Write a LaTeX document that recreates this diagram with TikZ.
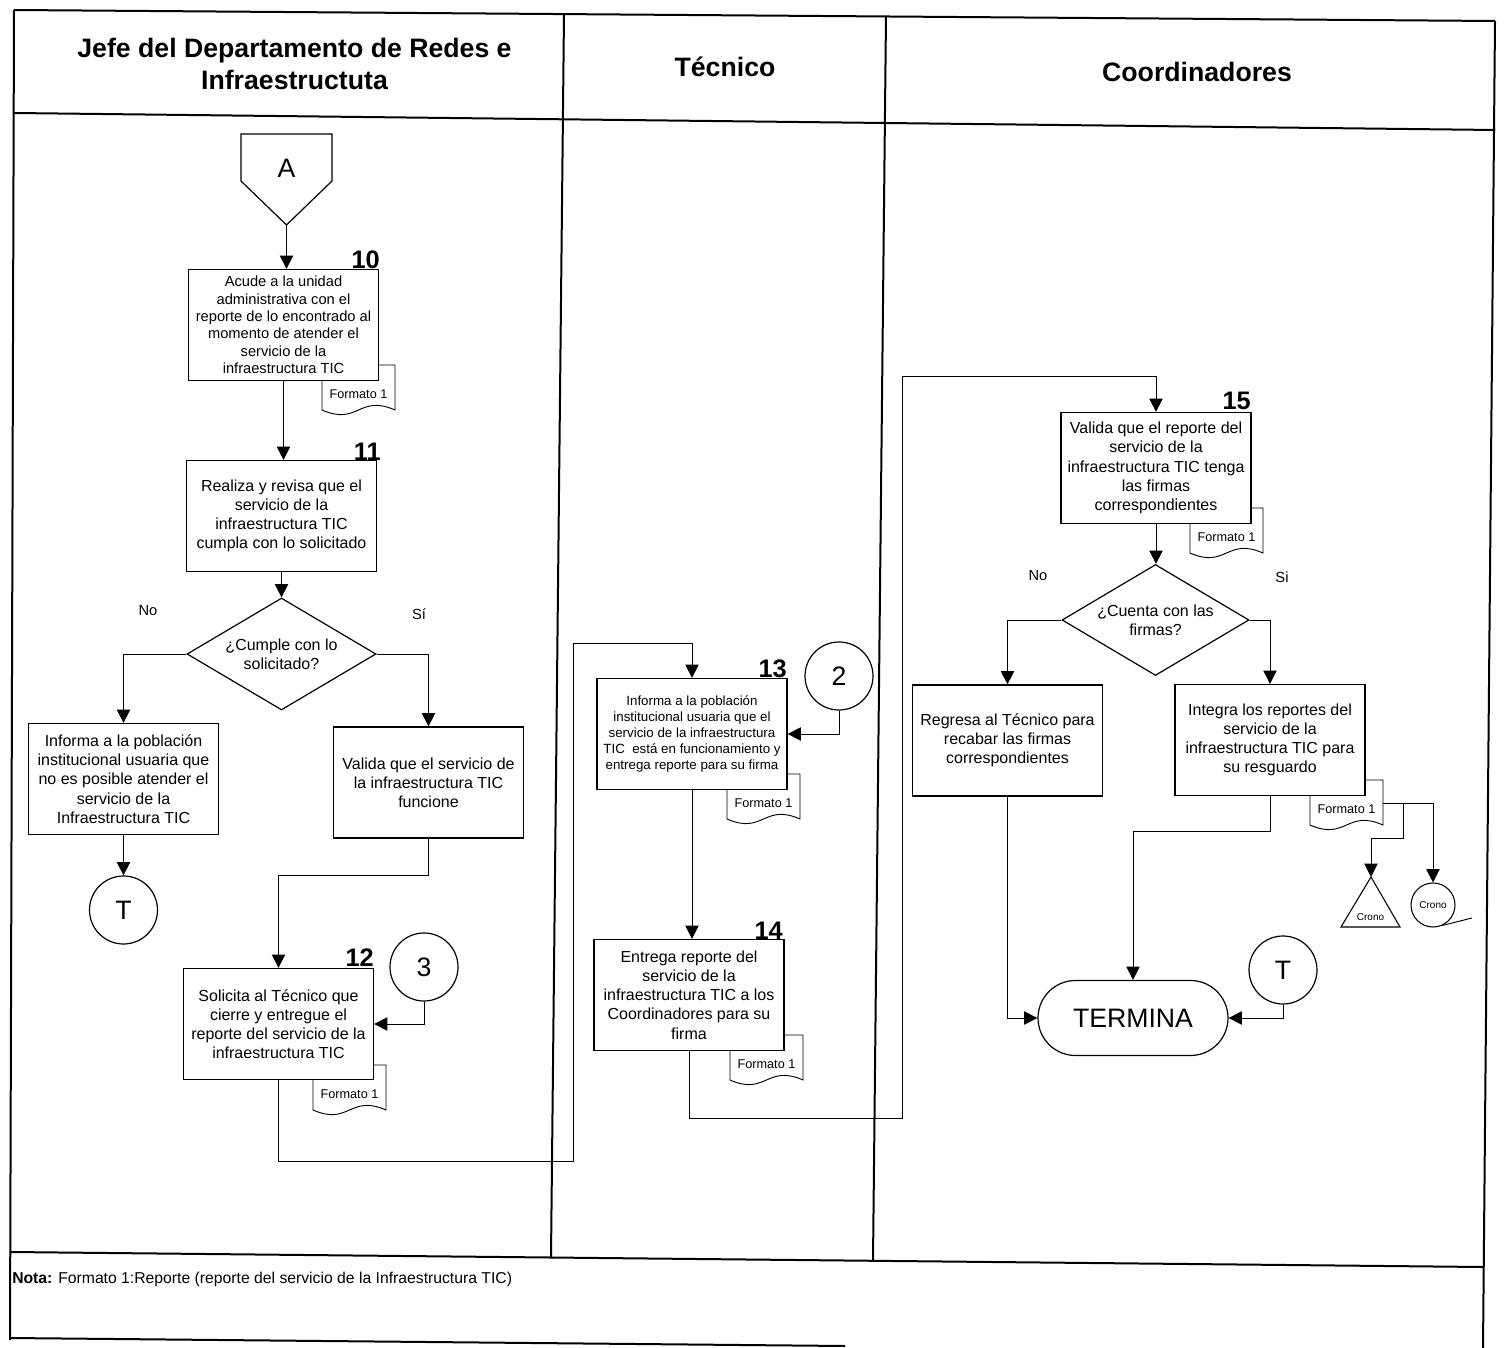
\documentclass[tikz,border=0pt]{standalone}
\usepackage{fontspec}
\setmainfont{Liberation Sans}
\usetikzlibrary{arrows.meta,shapes.geometric,shapes.misc,calc}
\tikzset{
  frame/.style={line width=1.5pt},
  proc/.style={draw, line width=0.9pt, fill=white, align=center, inner sep=0pt,
    minimum width=142.5pt, minimum height=83.25pt, font=\fontsize{12}{14.4}\selectfont},
  dec/.style={draw, diamond, aspect=1.69, line width=0.9pt, fill=white, align=center, inner sep=0pt,
    font=\fontsize{12}{14.4}\selectfont},
  conn/.style={draw, circle, line width=0.9pt, fill=white, minimum size=51pt, inner sep=0pt,
    font=\fontsize{20}{24}\selectfont},
  flow/.style={line width=0.7pt, -{Triangle[length=10pt,width=10pt]}},
  link/.style={line width=0.7pt},
  stepno/.style={font=\bfseries\fontsize{19}{22}\selectfont, anchor=base east, inner sep=0pt},
  fmt/.style={font=\fontsize{9.5}{11}\selectfont, inner sep=0pt},
  lbl/.style={font=\fontsize{11}{13}\selectfont, inner sep=0pt},
  head/.style={font=\bfseries\fontsize{20}{24}\selectfont, align=center, inner sep=0pt},
  tiny/.style={font=\fontsize{7.5}{9}\selectfont, inner sep=0pt},
}
\newcommand{\fdoc}[3]{%
  \draw[line width=0.7pt, fill=white] (#2,#3-15) -- (#2+73,#3-15) -- (#2+73,#3+30)
    .. controls (#2+36.5,#3+14) and (#2+36.5,#3+46) .. (#2,#3+30) -- cycle;
  \node[fmt] (#1) at (#2+36.5,#3+14) {Formato 1};}
\begin{document}
\begin{tikzpicture}[x=0.75pt,y=-0.75pt]
\useasboundingbox (0,0) rectangle (1504,1348);
% frame
\draw[frame] (14,10) -- (1495,21);
\draw[frame] (14,113) -- (1495,130);
\draw[frame] (14,10) -- (10,1340);
\draw[frame] (1495,21) -- (1483,1348);
\draw[frame] (564,14) -- (551,1257);
\draw[frame] (886,16) -- (873,1261);
\draw[frame] (10,1252) -- (1483,1267);
\draw[frame] (10,1338) -- (845,1346);
% headers
\node[head] (h1) at (294.5,64) {Jefe del Departamento de Redes e\\Infraestructuta};
\node[head] (h2) at (725,67) {Técnico};
\node[head] (h3) at (1197,72) {Coordinadores};
% off-page connector A
\draw[line width=0.9pt, fill=white] (241,134) -- (332,134) -- (332,181) -- (286.5,225) -- (241,181) -- cycle;
\node[font=\fontsize{20}{24}\selectfont, inner sep=0pt] (A) at (286.5,168) {A};
\coordinate (Atip) at (286.5,225);
% documents (behind boxes)
\fdoc{f10}{322}{380}
\fdoc{f12}{313}{1080}
\fdoc{f13}{727}{789}
\fdoc{f14}{730}{1050}
\fdoc{f15}{1190}{523}
\fdoc{fIG}{1310}{795}
% lane 1
\node[proc, font=\fontsize{11}{13}\selectfont] (b10) at (283.5,325) {Acude a la unidad\\administrativa con el\\reporte de lo encontrado al\\momento de atender el\\servicio de la\\infraestructura TIC};
\node[stepno] (n10) at (380,269) {10};
\node[proc] (b11) at (281.5,516) {Realiza y revisa que el\\servicio de la\\infraestructura TIC\\cumpla con lo solicitado};
\node[stepno] (n11) at (381,460) {11};
\node[dec, minimum width=141.75pt, minimum height=84pt] (d1) at (281.5,654) {¿Cumple con lo\\solicitado?};
\node[lbl] (no1) at (148,611) {No};
\node[lbl] (si1) at (419,614) {Sí};
\node[proc] (bno) at (123.5,779) {Informa a la población\\institucional usuaria que\\no es posible atender el\\servicio de la\\Infraestructura TIC};
\node[proc] (bsi) at (428.5,782.5) {Valida que el servicio de\\la infraestructura TIC\\funcione};
\node[conn] (cT1) at (123.5,910) {T};
\node[proc] (b12) at (278.5,1024) {Solicita al Técnico que\\cierre y entregue el\\reporte del servicio de la\\infraestructura TIC};
\node[stepno] (n12) at (374,966) {12};
\node[conn] (c3) at (424,967) {3};
% lane 2
\node[proc, font=\fontsize{10}{12}\selectfont] (b13) at (692,734) {Informa a la población\\institucional usuaria que el\\servicio de la infraestructura\\TIC~ está en funcionamiento y\\entrega reporte para su firma};
\node[stepno] (n13) at (787,677) {13};
\node[conn] (c2) at (839,676) {2};
\node[proc] (b14) at (689,995) {Entrega reporte del\\servicio de la\\infraestructura TIC a los\\Coordinadores para su\\firma};
\node[stepno] (n14) at (783,939) {14};
% lane 3
\node[proc] (b15) at (1156,468) {Valida que el reporte del\\servicio de la\\infraestructura TIC tenga\\las firmas\\correspondientes};
\node[stepno] (n15) at (1251,410) {15};
\node[dec, minimum width=140.25pt, minimum height=83.25pt] (d2) at (1155.5,620) {¿Cuenta con las\\firmas?};
\node[lbl] (no2) at (1038,576) {No};
\node[lbl] (si2) at (1282,577) {Si};
\node[proc] (brg) at (1007.5,740.5) {Regresa al Técnico para\\recabar las firmas\\correspondientes};
\node[proc] (big) at (1270,740) {Integra los reportes del\\servicio de la\\infraestructura TIC para\\su resguardo};
\node[draw, rounded rectangle, line width=0.9pt, fill=white, minimum width=142.5pt, minimum height=56.25pt, inner sep=0pt, font=\fontsize{20}{24}\selectfont] (term) at (1133,1018) {TERMINA};
\node[conn] (cT2) at (1283,970) {T};
% crono symbols
\coordinate (tri) at (1371,877);
\draw[line width=0.8pt, fill=white] (tri) -- (1400,927) -- (1341,927) -- cycle;
\node[tiny] (tcr) at (1370.5,917) {Crono};
\node[draw, circle, line width=0.8pt, fill=white, minimum size=33pt, inner sep=0pt, font=\fontsize{7.5}{9}\selectfont] (c5) at (1433,905) {Crono};
\coordinate (tail) at (1472,918);
\coordinate (fIGr) at (1383,803);
\coordinate (jc1) at (1403,803);
\coordinate (jc2) at (1433,803);
% connector way points
\coordinate (k1) at (573,1161);
\coordinate (k2) at (573,643);
\coordinate (k3) at (902,1118);
\coordinate (k4) at (902,376);
% note
\node[anchor=west, inner sep=0pt, font=\fontsize{11.8}{14}\selectfont] (nota) at (12,1279) {\textbf{Nota:} Formato 1:Reporte (reporte del servicio de la Infraestructura TIC)};
% connectors
\draw[flow] (Atip) -- (Atip |- b10.north);
\draw[flow] (b10.south) -- (b10.south |- b11.north);
\draw[flow] (b11.south) -- (d1.north);
\draw[flow] (d1.west) -| (bno.north);
\draw[flow] (d1.east) -| (bsi.north);
\draw[flow] (bno.south) -- (cT1.north);
\draw[flow] (bsi.south) -- ++(0,37) -| (b12.north);
\draw[flow] (c3.south) |- (b12.east);
\draw[flow] (b12.south) |- (k1) -- (k2) -| (b13.north);
\draw[flow] (c2.south) |- (b13.east);
\draw[flow] (b13.south) -- (b13.south |- b14.north);
\draw[flow] (b14.south) |- (k3) -- (k4) -| (b15.north);
\draw[flow] (b15.south) -- (b15.south |- d2.north);
\draw[flow] (d2.west) -| (brg.north);
\draw[flow] (d2.east) -| (big.north);
\draw[flow] (brg.south) |- (term.west);
\draw[flow] (big.south) -- ++(0,35) -| (term.north);
\draw[flow] (cT2.south) |- (term.east);
\draw[link] (fIGr) -- (jc2);
\draw[flow] (jc1) -- ++(0,35) -| (tri);
\draw[flow] (jc2) -- (c5.north);
\draw[link] (c5.-65) -- (tail);
\end{tikzpicture}
\end{document}
